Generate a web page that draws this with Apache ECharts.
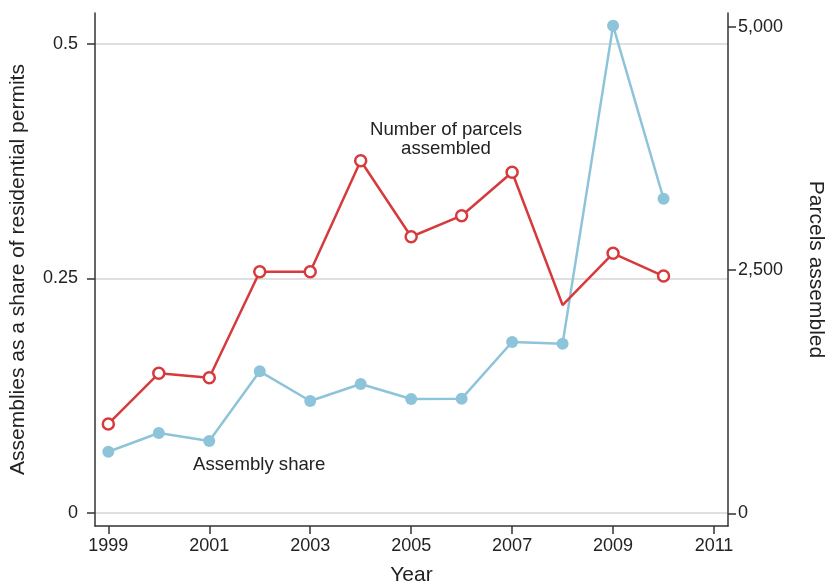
<!DOCTYPE html>
<html>
<head>
<meta charset="utf-8">
<script src="https://cdn.jsdelivr.net/npm/echarts@6/dist/echarts.min.js"></script>
<style>html,body{margin:0;padding:0;background:#fff}#c{width:826px;height:584px}</style>
</head>
<body>
<div id="c"></div>
<script>
const years = [1999, 2000, 2001, 2002, 2003, 2004, 2005, 2006, 2007, 2008, 2009, 2010];
const assemblyShare = [0.0653, 0.0853, 0.0768, 0.151, 0.1194, 0.1375, 0.1215, 0.1219, 0.1823, 0.1805, 0.5195, 0.335];
const parcelsAssembled = [918, 1439, 1393, 2483, 2483, 3623, 2842, 3058, 3504, 2140, 2672, 2438];
const parcelsNoMarkerYears = [2008];
const xTicks = [1999, 2001, 2003, 2005, 2007, 2009, 2011];
const leftTicks = [0, 0.25, 0.5];
const rightTicks = [0, 2500, 5000];

const FONT = '"Liberation Sans", Arial, Helvetica, sans-serif';
const TXT = '#222';
const AX = '#333';
const RED = '#d73a3c';
const BLUE = '#8ec4d9';
const TICK_FS = 18;
const NAME_FS = 21;
const NOTE_FS = 18.6;

const chart = echarts.init(document.getElementById('c'), null, {renderer: 'canvas'});
const option = {
  animation: false,
  backgroundColor: '#fff',
  textStyle: {fontFamily: FONT},
  grid: {left: 95, right: 98, top: 13, bottom: 58, containLabel: false, outerBoundsMode: 'none'},
  xAxis: {
    type: 'value', min: 1998.736, max: 2011.277,
    name: 'Year', nameLocation: 'middle', nameGap: 39,
    nameTextStyle: {fontFamily: FONT, fontSize: NAME_FS, color: TXT},
    axisLine: {show: true, onZero: false, lineStyle: {color: AX, width: 1.5}},
    axisTick: {show: true, length: 8, customValues: xTicks, lineStyle: {color: AX, width: 1.5}},
    axisLabel: {customValues: xTicks, fontFamily: FONT, fontSize: TICK_FS, color: TXT, margin: 11,
      formatter: v => String(v)},
    splitLine: {show: false}
  },
  yAxis: [{
    type: 'value', min: -0.01386, max: 0.533, position: 'left',
    name: 'Assemblies as a share of residential permits', nameLocation: 'middle', nameGap: 66,
    nameTextStyle: {fontFamily: FONT, fontSize: NAME_FS, color: TXT},
    axisLine: {show: true, lineStyle: {color: AX, width: 1.5}},
    axisTick: {show: true, length: 8, customValues: leftTicks, lineStyle: {color: AX, width: 1.5}},
    axisLabel: {customValues: leftTicks, fontFamily: FONT, fontSize: TICK_FS, color: TXT, margin: 17,
      formatter: v => String(v)},
    splitLine: {show: true, lineStyle: {color: '#d4d4d4', width: 1.5}}
  }, {
    type: 'value', min: -130.5, max: 5141, position: 'right',
    name: 'Parcels assembled', nameLocation: 'middle', nameGap: 77, nameRotate: -90,
    nameTextStyle: {fontFamily: FONT, fontSize: NAME_FS, color: TXT},
    axisLine: {show: true, lineStyle: {color: AX, width: 1.5}},
    axisTick: {show: true, length: 8, customValues: rightTicks, lineStyle: {color: AX, width: 1.5}},
    axisLabel: {customValues: rightTicks, fontFamily: FONT, fontSize: TICK_FS, color: TXT, margin: 10,
      formatter: v => Number(v).toLocaleString('en-US')},
    splitLine: {show: false}
  }],
  series: [{
    name: 'Number of parcels assembled', type: 'line', yAxisIndex: 1,
    data: years.map((y, i) => {
      const item = {value: [y, parcelsAssembled[i]]};
      if (parcelsNoMarkerYears.indexOf(y) >= 0) item.symbol = 'none';
      return item;
    }),
    symbol: 'circle', symbolSize: 11, showAllSymbol: true,
    lineStyle: {color: RED, width: 2.5},
    itemStyle: {color: '#fff', borderColor: RED, borderWidth: 2.5},
    z: 3
  }, {
    name: 'Assembly share', type: 'line', yAxisIndex: 0,
    data: years.map((y, i) => [y, assemblyShare[i]]),
    symbol: 'circle', symbolSize: 12, showAllSymbol: true,
    lineStyle: {color: BLUE, width: 2.5},
    itemStyle: {color: BLUE, borderWidth: 0},
    z: 2,
    markPoint: {
      symbol: 'circle', symbolSize: 0,
      label: {show: true, position: 'inside', fontFamily: FONT, fontSize: NOTE_FS, color: TXT,
        align: 'center', verticalAlign: 'middle', lineHeight: 19},
      data: [
        {coord: [2005.69, 0.3985], value: 'Number of parcels\nassembled',
          label: {formatter: 'Number of parcels\nassembled'}},
        {coord: [2001.99, 0.0515], value: 'Assembly share',
          label: {formatter: 'Assembly share'}}
      ]
    }
  }]
};
chart.setOption(option);
</script>
</body>
</html>
